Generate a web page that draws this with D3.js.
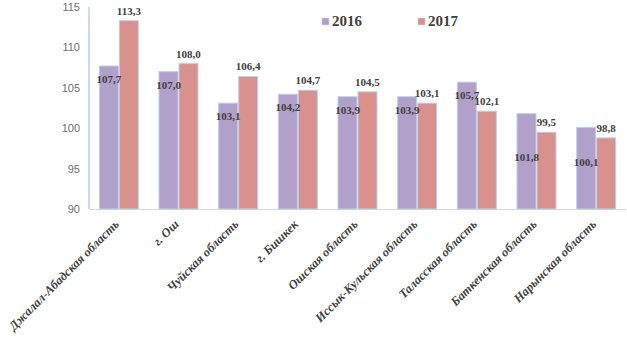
<!DOCTYPE html>
<html>
<head>
<meta charset="utf-8">
<script src="https://cdn.jsdelivr.net/npm/d3@7"></script>
<style>
  body { margin: 0; background: #fff; }
  svg { display: block; }
</style>
</head>
<body>
<div id="chart"></div>
<script>
var regions = ["Джалал-Абадская область", "г. Ош", "Чуйская область", "г. Бишкек",
    "Ошская область", "Иссык-Кульская область", "Таласская область",
    "Баткенская область", "Нарынская область"];
var years = ["2016", "2017"];
var values2016 = [107.7, 107.0, 103.1, 104.2, 103.9, 103.9, 105.7, 101.8, 100.1];
var values2017 = [113.3, 108.0, 106.4, 104.7, 104.5, 103.1, 102.1, 99.5, 98.8];
var yTicks = [90, 95, 100, 105, 110, 115];

// extra drop (px) for some 2016 labels, placed by hand in the original
var labelDrop2016 = [0, 0, 0, 0, 0, 0, 0, 30, 22];

var w = 627, h = 347;
var colors = ["#b1a0c9", "#d9918e"];

var svg = d3.select("#chart").append("svg")
    .attr("width", w)
    .attr("height", h);

var x = d3.scaleBand()
    .domain(regions)
    .range([89, 626])
    .paddingInner(0.33)
    .paddingOuter(0.165);

var xSub = d3.scaleBand()
    .domain(years)
    .range([0, x.bandwidth()]);

var y = d3.scaleLinear()
    .domain([90, 115])
    .range([209, 7]);

// y tick labels
svg.selectAll(".ytick")
    .data(yTicks)
    .enter()
    .append("text")
    .attr("x", 80)
    .attr("y", function(d) { return y(d) + 4; })
    .attr("text-anchor", "end")
    .attr("font-family", "Liberation Sans, Arial, sans-serif")
    .attr("font-size", 11)
    .attr("fill", "#707070")
    .text(function(d) { return d; });

// axes lines
svg.append("line")
    .attr("x1", 89).attr("x2", 89)
    .attr("y1", y(115)).attr("y2", y(90))
    .attr("stroke", "#a9c3e6")
    .attr("stroke-width", 1.2);

svg.append("line")
    .attr("x1", 89).attr("x2", 626)
    .attr("y1", y(90) + 0.5).attr("y2", y(90) + 0.5)
    .attr("stroke", "#d9d9d9")
    .attr("stroke-width", 1);

var rows = regions.map(function(r, i) {
    return { region: r, v: [values2016[i], values2017[i]], i: i };
});

var groups = svg.selectAll(".grp")
    .data(rows)
    .enter()
    .append("g")
    .attr("transform", function(d) { return "translate(" + x(d.region) + ",0)"; });

groups.selectAll("rect")
    .data(function(d) { return d.v.map(function(v, k) { return { v: v, k: k }; }); })
    .enter()
    .append("rect")
    .attr("x", function(d) { return xSub(years[d.k]) + 0.5; })
    .attr("y", function(d) { return y(d.v); })
    .attr("width", xSub.bandwidth() - 1)
    .attr("height", function(d) { return y(90) - y(d.v); })
    .attr("fill", function(d) { return colors[d.k]; })
    .attr("stroke", "#bcd0ea")
    .attr("stroke-width", 1);

function fmt(v) { return v.toFixed(1).replace(".", ","); }

// 2016 labels, inside the bar near the top
groups.append("text")
    .attr("x", xSub("2016") + xSub.bandwidth() / 2)
    .attr("y", function(d) { return y(d.v[0]) + 17 + labelDrop2016[d.i]; })
    .attr("text-anchor", "middle")
    .attr("font-family", "Liberation Serif, Times New Roman, serif")
    .attr("font-weight", "bold")
    .attr("font-size", 11)
    .attr("fill", "#404040")
    .text(function(d) { return fmt(d.v[0]); });

// 2017 labels, above the bar
groups.append("text")
    .attr("x", xSub("2017") + xSub.bandwidth() / 2)
    .attr("y", function(d) { return y(d.v[1]) - 6; })
    .attr("text-anchor", "middle")
    .attr("font-family", "Liberation Serif, Times New Roman, serif")
    .attr("font-weight", "bold")
    .attr("font-size", 11)
    .attr("fill", "#404040")
    .text(function(d) { return fmt(d.v[1]); });

// category labels, rotated
svg.selectAll(".xlab")
    .data(regions)
    .enter()
    .append("text")
    .attr("transform", function(d) {
        return "translate(" + (x(d) + x.bandwidth() / 2 + 1) + "," + 225 + ") rotate(-45)";
    })
    .attr("text-anchor", "end")
    .attr("font-family", "Liberation Serif, Times New Roman, serif")
    .attr("font-weight", "bold")
    .attr("font-style", "italic")
    .attr("font-size", 12.5)
    .attr("fill", "#404040")
    .text(function(d) { return d; });

// legend
var legend = svg.selectAll(".leg")
    .data(years)
    .enter()
    .append("g")
    .attr("transform", function(d, i) { return "translate(" + (322 + i * 96) + ",18)"; });

legend.append("rect")
    .attr("width", 7)
    .attr("height", 7)
    .attr("fill", function(d, i) { return colors[i]; })
    .attr("stroke", "#c5d6ec")
    .attr("stroke-width", 0.6);

legend.append("text")
    .attr("x", 10)
    .attr("y", 8)
    .attr("font-family", "Liberation Serif, Times New Roman, serif")
    .attr("font-weight", "bold")
    .attr("font-size", 15)
    .attr("fill", "#404040")
    .text(function(d) { return d; });
</script>
</body>
</html>
